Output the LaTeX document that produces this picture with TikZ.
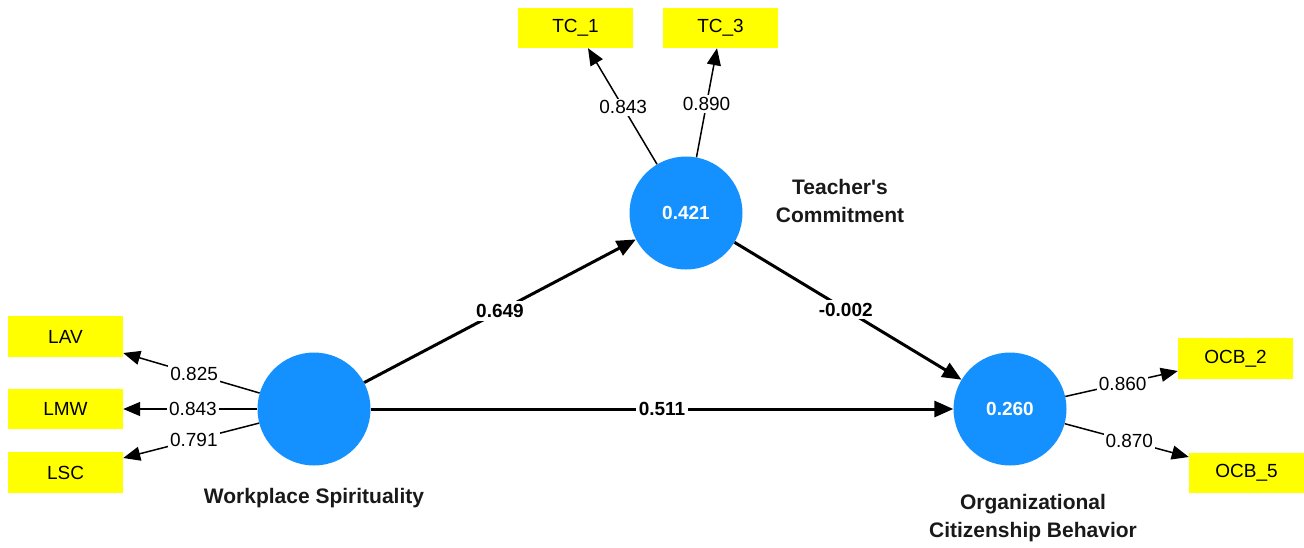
\documentclass[tikz,border=0pt]{standalone}
\usepackage{fontspec}
\setmainfont{Liberation Sans}
\newfontfamily\plainsans{Liberation Sans}
\usetikzlibrary{arrows.meta}
\definecolor{lvblue}{RGB}{20,145,255}
\definecolor{indyellow}{RGB}{255,255,0}
\tikzset{
  indbox/.style={fill=indyellow, draw=none, minimum width=115pt, minimum height=41pt, inner sep=0pt, font=\fontsize{19}{22}\selectfont},
  latent/.style={circle, fill=lvblue, draw=none, minimum size=113pt, inner sep=0pt, text=white, font=\fontsize{19}{22}\selectfont\bfseries},
  lvname/.style={align=center, font=\plainsans\fontsize{21}{27.5}\selectfont\bfseries, text=black!90},
  loadarrow/.style={line width=1.5pt, -{Triangle[length=17pt,width=14pt]}},
  patharrow/.style={line width=3pt, -{Triangle[length=19pt,width=16pt]}},
  loadlbl/.style={fill=white, inner sep=2pt, font=\fontsize{19}{22}\selectfont},
  pathlbl/.style={fill=white, inner sep=3pt, font=\fontsize{19}{22}\selectfont\bfseries},
}
\begin{document}
\begin{tikzpicture}[x=1pt,y=-1pt]
\useasboundingbox (0,0) rectangle (1304,547);
% indicators
\node[indbox] (lav) at (65.5,336.5) {LAV};
\node[indbox, minimum height=40pt] (lmw) at (65.5,409) {LMW};
\node[indbox] (lsc) at (65.5,472.5) {LSC};
\node[indbox, minimum height=40pt] (tc1) at (575.5,28) {TC\_1};
\node[indbox, minimum height=40pt] (tc3) at (720.5,28) {TC\_3};
\node[indbox] (ocb2) at (1235.5,358.5) {OCB\_2};
\node[indbox, minimum height=40pt] (ocb5) at (1246.5,473) {OCB\_5};
% latent variables
\node[latent] (ws) at (314,409) {};
\node[latent] (tc) at (686,213) {0.421};
\node[latent] (ocb) at (1010,409) {0.260};
% names
\node[lvname] (wsname) at (314,498) {Workplace Spirituality};
\node[lvname] (tcname) at (840,201) {Teacher's\\Commitment};
\node[lvname] (ocbname) at (1033,518) {Organizational\\Citizenship Behavior};
% arrow end points
\coordinate (lavT) at ([yshift=-16.5pt]lav.east);
\coordinate (lmwT) at (lmw.east);
\coordinate (lscT) at ([yshift=14.5pt]lsc.east);
\coordinate (tc1T) at ([xshift=12.5pt]tc1.south);
\coordinate (tc3T) at ([xshift=-3.5pt]tc3.south);
\coordinate (ocb2T) at ([yshift=-12.5pt]ocb2.west);
\coordinate (ocb5T) at ([yshift=16pt]ocb5.west);
% loadings
\draw[loadarrow] (ws) -- (lavT) node[loadlbl, pos=0.48] {0.825};
\draw[loadarrow] (ws) -- (lmwT) node[loadlbl, pos=0.48] {0.843};
\draw[loadarrow] (ws) -- (lscT) node[loadlbl, pos=0.48] {0.791};
\draw[loadarrow] (tc) -- (tc1T) node[loadlbl, pos=0.49] {0.843};
\draw[loadarrow] (tc) -- (tc3T) node[loadlbl, pos=0.49] {0.890};
\draw[loadarrow] (ocb) -- (ocb2T) node[loadlbl, pos=0.51] {0.860};
\draw[loadarrow] (ocb) -- (ocb5T) node[loadlbl, pos=0.52] {0.870};
% structural paths
\draw[patharrow] (ws) -- (tc) node[pathlbl, pos=0.5] {0.649};
\draw[patharrow] (tc) -- (ocb) node[pathlbl, pos=0.49] {-0.002};
\draw[patharrow] (ws) -- (ocb) node[pathlbl, pos=0.5] {0.511};
\end{tikzpicture}
\end{document}
